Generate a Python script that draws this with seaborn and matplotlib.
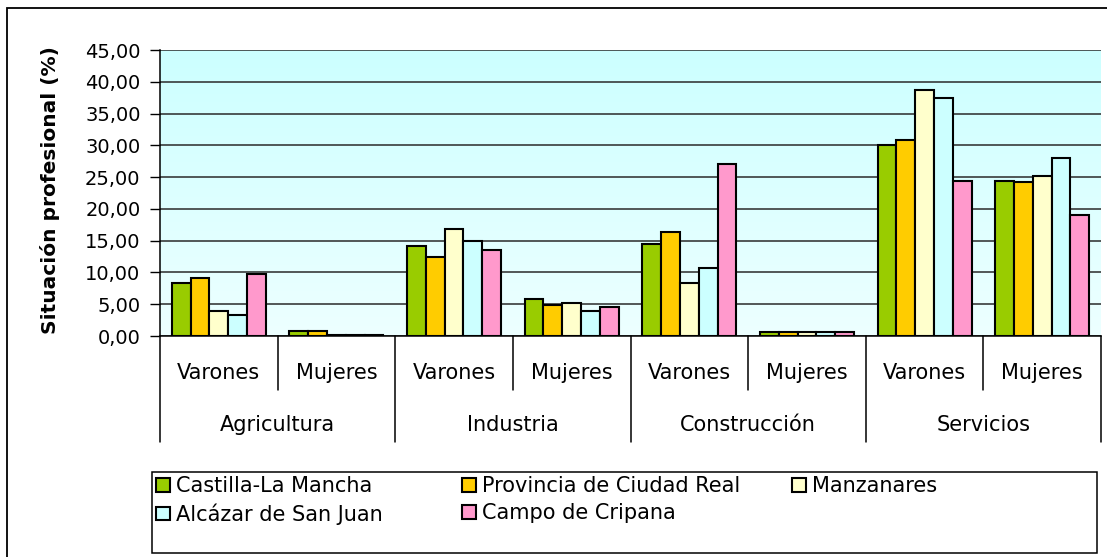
import numpy as np
import pandas as pd
import matplotlib
matplotlib.use("Agg")
import matplotlib.pyplot as plt
import matplotlib.transforms as mtransforms
from matplotlib.patches import Rectangle
from matplotlib.ticker import FuncFormatter, MultipleLocator
import seaborn as sns

# ── data ──────────────────────────────────────────────────────────────
sectores = ["Agricultura", "Industria", "Construcción", "Servicios"]
sexos = ["Varones", "Mujeres"]
series = ["Castilla-La Mancha", "Provincia de Ciudad Real", "Manzanares",
          "Alcázar de San Juan", "Campo de Cripana"]
colores = ["#99CC00", "#FFCC00", "#FFFFCC", "#CCFFFF", "#FF99CC"]

# one list per series, order: Agr V, Agr M, Ind V, Ind M, Con V, Con M, Ser V, Ser M
castilla = [8.4, 0.85, 14.1, 5.9, 14.4, 0.6, 30.1, 24.4]
ciudad_real = [9.1, 0.85, 12.5, 4.9, 16.3, 0.6, 30.8, 24.2]
manzanares = [4.0, 0.2, 16.9, 5.25, 8.4, 0.6, 38.7, 25.1]
alcazar = [3.3, 0.2, 15.0, 4.0, 10.7, 0.6, 37.4, 28.0]
cripana = [9.7, 0.2, 13.5, 4.6, 27.0, 0.6, 24.4, 19.1]

valores = [castilla, ciudad_real, manzanares, alcazar, cripana]
posiciones = [f"{s}|{x}" for s in sectores for x in sexos]

rows = []
for serie, vals in zip(series, valores):
    for pos, v in zip(posiciones, vals):
        rows.append({"pos": pos, "serie": serie, "valor": v})
df = pd.DataFrame(rows)

# ── figure ────────────────────────────────────────────────────────────
sns.set_style("white")
plt.rcParams["font.family"] = ["DejaVu Sans"]
for k in ["text.color", "axes.labelcolor", "xtick.color", "ytick.color"]:
    plt.rcParams[k] = "black"

W, H = 1107, 557
fig = plt.figure(figsize=(W / 100, H / 100), dpi=100)
ax = fig.add_axes([160 / W, (H - 336) / H, (1101 - 160) / W, 286 / H])

# background gradient in the plot area
grad = np.linspace(0, 1, 256).reshape(-1, 1)
top_c = np.array([0.80, 1.0, 1.0])
bot_c = np.array([0.93, 1.0, 1.0])
img = top_c * (1 - grad[..., None]) + bot_c * grad[..., None]
ax.imshow(img, extent=[0, 1, 0, 1], transform=ax.transAxes,
          aspect="auto", zorder=-10)

sns.barplot(data=df, x="pos", y="valor", hue="serie", order=posiciones,
            hue_order=series, palette=colores, saturation=1,
            edgecolor="black", linewidth=1.5, width=0.8, errorbar=None,
            ax=ax, zorder=3)

handles, labels = ax.get_legend_handles_labels()
if ax.get_legend() is not None:
    ax.get_legend().remove()

ax.set_xlim(-0.5, len(posiciones) - 0.5)
ax.set_ylim(0, 45)
ax.yaxis.set_major_locator(MultipleLocator(5))
ax.yaxis.set_major_formatter(FuncFormatter(lambda v, _: f"{v:.2f}".replace(".", ",")))
ax.grid(axis="y", color="#2a2a2a", linewidth=1.1)
ax.set_axisbelow(True)
ax.tick_params(axis="y", direction="out", length=7, width=1, color="black",
               labelsize=14, pad=7, left=True)
ax.tick_params(axis="x", bottom=False, labelbottom=False)
ax.set_xlabel("")
ax.set_ylabel("")
for s in ["top", "right"]:
    ax.spines[s].set_visible(False)
for s in ["left", "bottom"]:
    ax.spines[s].set_color("black")
    ax.spines[s].set_linewidth(1.1)

fig.text(50 / W, (H - 190) / H, "Situación profesional (%)", rotation=90,
         ha="center", va="center", fontsize=14.5, fontweight="bold")

# two-level category axis
trans = mtransforms.blended_transform_factory(ax.transData, ax.transAxes)
y_sub_line = (336 - 390) / 286
y_grp_line = (336 - 442) / 286
for i in range(len(sectores)):
    x0 = 2 * i - 0.5
    ax.plot([x0, x0], [0, y_grp_line], transform=trans, color="black",
            lw=1.1, clip_on=False)
    ax.plot([x0 + 1, x0 + 1], [0, y_sub_line], transform=trans, color="black",
            lw=1.1, clip_on=False)
ax.plot([len(posiciones) - 0.5] * 2, [0, y_grp_line], transform=trans,
        color="black", lw=1.1, clip_on=False)

for j, pos in enumerate(posiciones):
    ax.text(j, (336 - 373) / 286, pos.split("|")[1], transform=trans,
            ha="center", va="center", fontsize=15)
for i, sec in enumerate(sectores):
    ax.text(2 * i + 0.5, (336 - 425) / 286, sec, transform=trans,
            ha="center", va="center", fontsize=15)

# legend: box plus three columns
fig.add_artist(Rectangle((152 / W, (H - 553) / H), (1097 - 152) / W, 81 / H,
                         transform=fig.transFigure, fill=False,
                         edgecolor="black", linewidth=1.1))
cols = [(156, [0, 3]), (462, [1, 4]), (792, [2])]
for x_px, idx in cols:
    fig.legend([handles[k] for k in idx], [labels[k] for k in idx],
               loc="upper left", bbox_to_anchor=(x_px / W, (H - 476) / H),
               frameon=False, fontsize=15, handlelength=0.65,
               handleheight=0.65, handletextpad=0.3, labelspacing=0.35,
               borderpad=0, borderaxespad=0)

# outer border
fig.add_artist(Rectangle((7 / W, -0.02), 1.05, 1 - 8 / H + 0.02,
                         transform=fig.transFigure, fill=False,
                         edgecolor="black", linewidth=1.3))

fig.savefig("out.png", dpi=100)
